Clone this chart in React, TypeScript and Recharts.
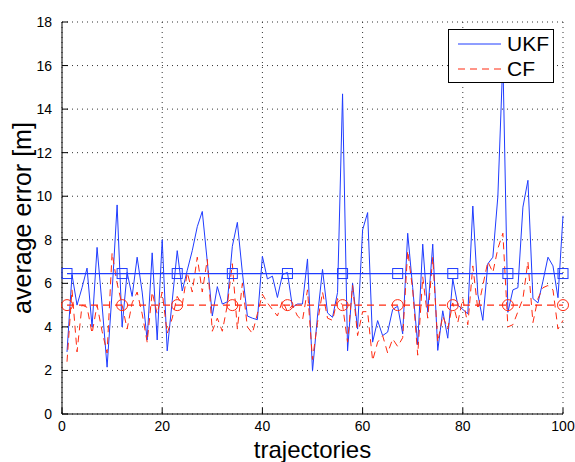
import { LineChart, Line, XAxis, YAxis, CartesianGrid } from 'recharts';

const ukfError = [
  2.85, 6.4, 5.0, 5.8, 6.7, 4.0, 7.65, 5.0, 2.15, 5.6,
  9.6, 4.0, 6.5, 5.4, 7.2, 5.6, 3.4, 7.4, 3.4, 8.0,
  2.9, 5.2, 7.5, 5.65, 6.6, 7.5, 8.6, 9.3, 7.0, 4.5,
  5.85, 5.05, 5.15, 7.7, 8.8, 6.5, 4.5, 4.4, 4.33, 7.24,
  6.2, 6.33, 5.35, 6.4, 6.5, 4.9, 5.05, 5.05, 7.12, 1.97,
  4.5, 6.64, 4.64, 4.44, 5.58, 14.7, 2.9, 6.0, 3.9, 8.45,
  9.25, 3.3, 4.29, 3.6, 3.76, 4.8, 4.95, 3.68, 8.3, 5.8,
  3.18, 7.8, 4.67, 7.8, 2.92, 4.74, 3.48, 6.2, 5.0, 4.8,
  4.6, 9.55, 5.5, 4.3, 6.9, 7.2, 10.0, 16.3, 4.67, 5.7,
  5.8, 9.5, 10.73, 5.3, 5.1, 6.1, 7.2, 6.8, 5.34, 9.1,
];

const cfError = [
  2.4, 5.7, 2.85, 5.0, 4.9, 3.7, 5.0, 3.8, 2.8, 7.4,
  6.0, 5.0, 3.9, 5.1, 5.6, 4.6, 3.3, 5.6, 4.6, 5.6,
  3.7, 4.4, 5.4, 5.0, 6.5, 5.6, 7.2, 5.6, 7.1, 3.8,
  4.4, 3.8, 5.0, 6.9, 3.9, 6.0, 4.0, 3.7, 4.6, 5.5,
  5.1, 4.8, 4.5, 5.2, 4.7, 5.0, 4.5, 4.3, 5.7, 2.5,
  4.2, 5.6, 4.4, 4.3, 5.3, 5.0, 3.3, 5.9, 3.6, 4.7,
  4.7, 2.45, 3.3, 3.6, 2.8, 3.45, 3.1, 3.5, 7.5, 5.7,
  2.7, 6.3, 4.4, 7.2, 3.3, 4.5, 3.9, 5.1, 4.2, 5.3,
  4.1, 6.8, 4.8, 5.9, 7.0, 6.5, 7.6, 8.3, 4.0, 4.1,
  4.7, 5.3, 7.0, 4.2, 5.3, 5.8, 5.9, 5.7, 3.9, 4.3,
];

const ukfMean = 6.45;
const cfMean = 5.0;
const markerTrajectories = [1, 12, 23, 34, 45, 56, 67, 78, 89, 100];
const xTicks = [0, 20, 40, 60, 80, 100];
const yTicks = [0, 2, 4, 6, 8, 10, 12, 14, 16, 18];

const BLUE = '#1f3cff';
const RED = '#ff2a10';
const FONT = '"Liberation Sans", Arial, Helvetica, sans-serif';

const data = ukfError.map((ukf, i) => ({
  trajectory: i + 1,
  ukf,
  cf: cfError[i],
  ukfMean,
  cfMean,
}));

const SquareDot = (props: any) => {
  const { cx, cy, payload, index } = props;
  if (!markerTrajectories.includes(payload.trajectory)) return <g key={`s${index}`} />;
  return <rect key={`s${index}`} x={cx - 5} y={cy - 5} width={10} height={10} fill="none" stroke={BLUE} strokeWidth={1} />;
};

const CircleDot = (props: any) => {
  const { cx, cy, payload, index } = props;
  if (!markerTrajectories.includes(payload.trajectory)) return <g key={`c${index}`} />;
  return <circle key={`c${index}`} cx={cx} cy={cy} r={5.5} fill="none" stroke={RED} strokeWidth={1} />;
};

// legend drawn on top of the plot, like matlab's boxed legend
const LegendBox = () => (
  <div style={{ position: 'absolute', left: 448, top: 29, border: '1px solid #000', background: '#fff', width: 106, height: 54, fontFamily: FONT, fontSize: 21, boxSizing: 'border-box' }}>
    <div style={{ display: 'flex', alignItems: 'center', height: 26, marginTop: 1 }}>
      <svg width={54} height={10}><line x1={9} y1={5} x2={52} y2={5} stroke={BLUE} strokeWidth={1} /></svg>
      <span style={{ marginLeft: 4 }}>UKF</span>
    </div>
    <div style={{ display: 'flex', alignItems: 'center', height: 24 }}>
      <svg width={54} height={10}><line x1={9} y1={5} x2={52} y2={5} stroke={RED} strokeWidth={1} strokeDasharray="7 5" /></svg>
      <span style={{ marginLeft: 4 }}>CF</span>
    </div>
  </div>
);

export default function App() {
  return (
    <div style={{ position: 'relative', width: 575, height: 462, boxSizing: 'border-box', padding: '8px 0 0 8px' }}>
      <style>{'body{margin:0;overflow:hidden} .recharts-surface{overflow:visible !important}'}</style>
      <LineChart width={567} height={454} data={data} margin={{ top: 14, right: 12, bottom: 0, left: 0 }}>
        <CartesianGrid stroke="#333" strokeDasharray="1 4" />
        <XAxis
          dataKey="trajectory"
          type="number"
          domain={[0, 100]}
          ticks={xTicks}
          height={48}
          tickSize={-6}
          tickMargin={13}
          stroke="#000"
          tick={{ fill: '#000', fontSize: 14, fontFamily: FONT }}
          label={{ value: 'trajectories', position: 'insideBottom', offset: 4, fill: '#000', fontSize: 24, fontFamily: FONT }}
        />
        <XAxis xAxisId="top" orientation="top" type="number" domain={[0, 100]} ticks={xTicks} height={0} tick={false} tickSize={-6} stroke="#000" />
        <YAxis
          type="number"
          domain={[0, 18]}
          ticks={yTicks}
          width={54}
          tickSize={-6}
          tickMargin={16}
          stroke="#000"
          tick={{ fill: '#000', fontSize: 14, fontFamily: FONT }}
          label={{ value: 'average error [m]', angle: -90, position: 'insideLeft', offset: 14, fill: '#000', fontSize: 25, fontFamily: FONT, style: { textAnchor: 'middle' } }}
        />
        <YAxis yAxisId="right" orientation="right" type="number" domain={[0, 18]} ticks={yTicks} width={0} tick={false} tickSize={-6} stroke="#000" />
        <Line dataKey="ukf" stroke={BLUE} strokeWidth={1} dot={false} isAnimationActive={false} />
        <Line dataKey="cf" stroke={RED} strokeWidth={1} strokeDasharray="7 5" dot={false} isAnimationActive={false} />
        <Line dataKey="ukfMean" stroke={BLUE} strokeWidth={1.2} dot={SquareDot} isAnimationActive={false} />
        <Line dataKey="cfMean" stroke={RED} strokeWidth={1.2} strokeDasharray="7 5" dot={CircleDot} isAnimationActive={false} />
      </LineChart>
      <LegendBox />
    </div>
  );
}
